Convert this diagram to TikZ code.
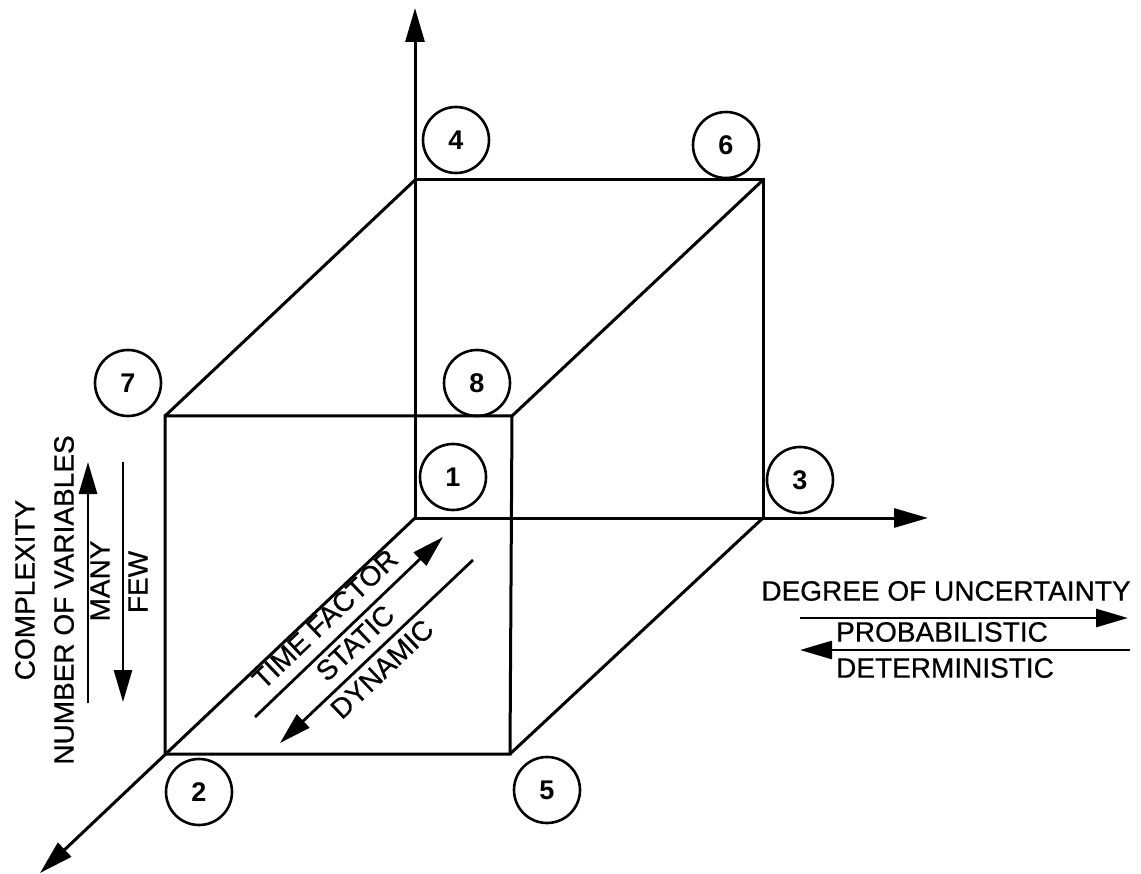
\documentclass[tikz,border=0pt]{standalone}
\usepackage{fontspec}
\setmainfont{Liberation Sans}
\newfontfamily\lblfont{Liberation Sans}[FakeBold=0.6]
\usetikzlibrary{arrows.meta}
\begin{document}
\begin{tikzpicture}[x=1pt,y=-1pt,
  edgeline/.style={line width=3pt,line join=miter},
  axisarrow/.style={line width=3pt,-{Triangle[length=34pt,width=19pt]}},
  smallarrow/.style={line width=2.8pt,-{Triangle[length=32pt,width=18pt]}},
  numcirc/.style={circle,draw,line width=2.6pt,minimum size=66pt,inner sep=0pt,font=\fontsize{27}{28}\selectfont\bfseries},
  lbl/.style={inner sep=0pt,font=\fontsize{28}{30}\selectfont\lblfont}]
\useasboundingbox (0,0) rectangle (1141,874);
% corners
\coordinate (O) at (415,518);
\coordinate (B4) at (415,180);
\coordinate (B6) at (763,180);
\coordinate (B3) at (763,518);
\coordinate (F7) at (165,416);
\coordinate (F8) at (512,416);
\coordinate (F2) at (165,754);
\coordinate (F5) at (510,754);
\coordinate (Vtip) at (415,8);
\coordinate (Htip) at (928,518);
\coordinate (Dtip) at (40,873);
% axes
\draw[axisarrow] (O) -- (Vtip);
\draw[axisarrow] (O) -- (Htip);
\draw[axisarrow] (O) -- (Dtip);
% cube
\draw[edgeline] (B4) -- (B6) -- (B3);
\draw[edgeline] (F7) -- (F8) -- (F5) -- (F2) -- cycle;
\draw[edgeline] (F7) -- (B4);
\draw[edgeline] (F8) -- (B6);
\draw[edgeline] (F5) -- (B3);
% numbered circles
\node[numcirc] (c4) at (456,140) {4};
\node[numcirc] (c6) at (726,145) {6};
\node[numcirc] (c7) at (128,383) {7};
\node[numcirc] (c8) at (477,383) {8};
\node[numcirc] (c1) at (453,477) {1};
\node[numcirc] (c3) at (800,480) {3};
\node[numcirc] (c2) at (199,792) {2};
\node[numcirc] (c5) at (547,790) {5};
% uncertainty labels
\node[lbl] (du) at (946,591) {DEGREE OF UNCERTAINTY};
\coordinate (pa1) at (800,618);
\coordinate (pa2) at (1128,618);
\draw[smallarrow] (pa1) -- (pa2);
\node[lbl] (prob) at (942,632) {PROBABILISTIC};
\coordinate (da1) at (1130,650);
\coordinate (da2) at (800,650);
\draw[smallarrow] (da1) -- (da2);
\node[lbl] (det) at (945,668) {DETERMINISTIC};
% complexity labels
\node[lbl,rotate=90] (cx) at (25,590) {COMPLEXITY};
\node[lbl,rotate=90] (nv) at (64,600) {NUMBER OF VARIABLES};
\node[lbl,rotate=90] (many) at (100,581) {MANY};
\node[lbl,rotate=90] (few) at (138,582) {FEW};
\coordinate (ua1) at (88,703);
\coordinate (ua2) at (88,462);
\draw[smallarrow] (ua1) -- (ua2);
\coordinate (dn1) at (123,462);
\coordinate (dn2) at (123,702);
\draw[smallarrow] (dn1) -- (dn2);
% time factor labels
\node[lbl,rotate=43.5] (tf) at (325,619) {TIME FACTOR};
\node[lbl,rotate=43.5] (st) at (355,643) {STATIC};
\node[lbl,rotate=43.5] (dy) at (382,669) {DYNAMIC};
\coordinate (ta1) at (255,717);
\coordinate (ta2) at (443,537);
\draw[smallarrow] (ta1) -- (ta2);
\coordinate (tb1) at (473,560);
\coordinate (tb2) at (280,743);
\draw[smallarrow] (tb1) -- (tb2);
\end{tikzpicture}
\end{document}
